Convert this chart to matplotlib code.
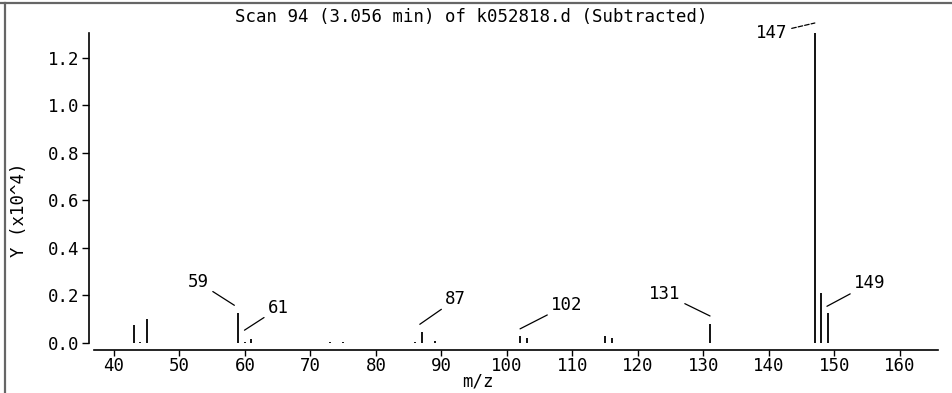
import matplotlib
matplotlib.use('Agg')
from matplotlib import pyplot as plt
from matplotlib.transforms import offset_copy
from matplotlib.lines import Line2D

# Peak list (m/z, abundance x10^4)
mz = [43, 44, 45, 59, 60, 61, 73, 75, 86, 87, 89, 102, 103, 115, 116, 131, 147, 148, 149]
abundance = [0.075, 0.006, 0.10, 0.125, 0.006, 0.016, 0.006, 0.005, 0.006, 0.045,
             0.008, 0.030, 0.020, 0.030, 0.020, 0.080, 1.305, 0.210, 0.125]
labeled = [59, 61, 87, 102, 131, 147, 149]
title = 'Scan 94 (3.056 min) of k052818.d (Subtracted)'
xticks = list(range(40, 161, 10))
yticks = [0.0, 0.2, 0.4, 0.6, 0.8, 1.0, 1.2]

plt.rcParams['font.family'] = ['DejaVu Sans Mono']
fs = 12.5

fig = plt.figure(figsize=(9.53, 3.93), dpi=100)
ax = fig.add_axes([89 / 953, 1 - 350 / 393, (938 - 89) / 953, (350 - 33) / 393])

ax.vlines(mz, 0, abundance, color='black', linewidth=1.3)

ax.set_xlim(36.2, 165.8)
ax.set_ylim(-0.0295, 1.305)
for s in ['top', 'right']:
    ax.spines[s].set_visible(False)
ax.spines['left'].set_bounds(0, 1.305)
ax.spines['bottom'].set_bounds(37, 165.8)
ax.spines['left'].set_linewidth(1.2)
ax.spines['bottom'].set_linewidth(1.2)

ax.set_xticks(xticks)
ax.set_yticks(yticks)
ax.set_yticklabels([f'{v:.1f}' for v in yticks])
ax.tick_params(axis='both', direction='out', length=5, width=1.0, labelsize=fs,
               pad=2, colors='black')
ax.tick_params(axis='x', length=4, pad=1)

# label offsets in pixels: (leader end dx, dy), (text dx, dy) relative to peak top
offsets = {
    59: ((-4, 8), (-40, 31)),
    61: ((-7, 9), (27, 31)),
    87: ((-2, 8), (34, 33)),
    102: ((0, 7), (47, 31)),
    131: ((0, 8), (-45, 30)),
    147: ((0, 10), (-43, 0)),
    149: ((-1, 7), (42, 30)),
}
for m in labeled:
    h = abundance[mz.index(m)]
    (ex, ey), (tx, ty) = offsets[m]
    trans = offset_copy(ax.transData, fig=fig, x=ex, y=ey, units='dots')
    ls = '--' if m == 147 else '-'
    ax.annotate(str(m), xy=(m, h), xycoords=trans,
                xytext=(tx - ex, ty - ey), textcoords='offset pixels',
                ha='center', va='center', fontsize=fs,
                arrowprops=dict(arrowstyle='-', color='black', lw=0.9, ls=ls,
                                shrinkA=1, shrinkB=0))

fig.text(471 / 953, 1 - 17 / 393, title, ha='center', va='center', fontsize=fs)
fig.text(478 / 953, 1 - 381 / 393, 'm/z', ha='center', va='center', fontsize=fs)
fig.text(19 / 953, 1 - 210 / 393, 'Y (x10^4)', ha='center', va='center',
         rotation=90, fontsize=fs)

# window frame
fig.add_artist(Line2D([0, 1], [1 - 2.5 / 393, 1 - 2.5 / 393], transform=fig.transFigure,
                      color='#666666', lw=1.6))
fig.add_artist(Line2D([4.5 / 953, 4.5 / 953], [0, 1 - 2.5 / 393], transform=fig.transFigure,
                      color='#666666', lw=1.6))

fig.savefig('out.png', dpi=100)
